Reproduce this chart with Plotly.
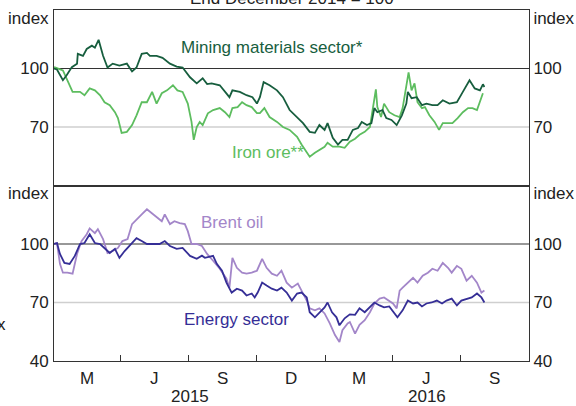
import plotly.graph_objects as go
import pandas as pd

# Top panel: mining materials sector and iron ore (end December 2014 = 100)
mining_dates = [
    "2014-12-31", "2015-01-05", "2015-01-13", "2015-01-18", "2015-01-25", "2015-02-01",
    "2015-02-02", "2015-02-09", "2015-02-14", "2015-02-21", "2015-02-25", "2015-03-02",
    "2015-03-08", "2015-03-14", "2015-03-21", "2015-03-30", "2015-04-09", "2015-04-16",
    "2015-04-22", "2015-04-29", "2015-05-06", "2015-05-10", "2015-05-19", "2015-05-27",
    "2015-06-06", "2015-06-15", "2015-06-23", "2015-07-03", "2015-07-12", "2015-07-20",
    "2015-07-26", "2015-08-01", "2015-08-12", "2015-08-19", "2015-08-25", "2015-08-29",
    "2015-09-08", "2015-09-17", "2015-09-25", "2015-10-01", "2015-10-05", "2015-10-10",
    "2015-10-18", "2015-10-28", "2015-11-05", "2015-11-14", "2015-11-24", "2015-12-02",
    "2015-12-11", "2015-12-18", "2015-12-24", "2015-12-31", "2016-01-04", "2016-01-11",
    "2016-01-18", "2016-01-24", "2016-01-31", "2016-02-07", "2016-02-14", "2016-02-19",
    "2016-02-26", "2016-03-03", "2016-03-07", "2016-03-11", "2016-03-18", "2016-03-23",
    "2016-03-30", "2016-04-06", "2016-04-13", "2016-04-19", "2016-04-21", "2016-04-26",
    "2016-05-03", "2016-05-10", "2016-05-16", "2016-05-24", "2016-05-31", "2016-06-07",
    "2016-06-16", "2016-06-26", "2016-07-04", "2016-07-13", "2016-07-20", "2016-07-27",
    "2016-07-31", "2016-08-02",
]
mining = [
    100, 99.5, 94, 96.5, 100.7, 102.5,
    107.5, 106.5, 110, 111.7, 110.7, 114.7,
    106.5, 100.5, 102.5, 101.5, 102.5, 98.5,
    100.5, 107.5, 108, 106.5, 106.5, 105.5,
    102.5, 101, 100.5, 95.5, 92.4, 95,
    92, 92.4, 91.4, 88, 85.3, 88.8,
    88, 86.3, 85.3, 82, 85.3, 93,
    91.4, 88.8, 85.3, 78.7, 75.1, 72,
    67.5, 67, 71, 68.5, 72, 64.4,
    61, 63.4, 63.4, 68.5, 69.5, 72.6,
    71, 72, 79.7, 77.6, 78.7, 74.6,
    73.6, 71, 76, 82, 88, 84.8,
    85.3, 81.2, 82, 81.2, 81.2, 83.7,
    82, 82.7, 88, 94, 89.8, 88.8,
    91.9, 90.5,
]

iron_dates = [
    "2014-12-31", "2015-01-02", "2015-01-13", "2015-01-19", "2015-01-26", "2015-02-05",
    "2015-02-11", "2015-02-18", "2015-02-25", "2015-03-04", "2015-03-10", "2015-03-17",
    "2015-03-24", "2015-03-28", "2015-04-02", "2015-04-09", "2015-04-16", "2015-04-22",
    "2015-04-29", "2015-05-06", "2015-05-13", "2015-05-19", "2015-05-26", "2015-06-02",
    "2015-06-10", "2015-06-16", "2015-06-23", "2015-06-30", "2015-07-05", "2015-07-08",
    "2015-07-12", "2015-07-16", "2015-07-20", "2015-07-27", "2015-08-03", "2015-08-12",
    "2015-08-19", "2015-08-25", "2015-08-29", "2015-09-05", "2015-09-11", "2015-09-17",
    "2015-09-24", "2015-10-01", "2015-10-05", "2015-10-11", "2015-10-18", "2015-10-28",
    "2015-11-05", "2015-11-14", "2015-11-24", "2015-11-30", "2015-12-07", "2015-12-11",
    "2015-12-18", "2015-12-24", "2015-12-31", "2016-01-04", "2016-01-11", "2016-01-20",
    "2016-01-27", "2016-02-03", "2016-02-10", "2016-02-16", "2016-02-23", "2016-03-01",
    "2016-03-05", "2016-03-09", "2016-03-11", "2016-03-16", "2016-03-20", "2016-03-27",
    "2016-04-03", "2016-04-10", "2016-04-14", "2016-04-19", "2016-04-22", "2016-04-26",
    "2016-04-30", "2016-05-04", "2016-05-10", "2016-05-14", "2016-05-20", "2016-05-27",
    "2016-06-02", "2016-06-07", "2016-06-14", "2016-06-20", "2016-06-27", "2016-07-04",
    "2016-07-11", "2016-07-17", "2016-07-23", "2016-07-27", "2016-07-31",
]
iron_ore = [
    100, 100.6, 99, 94, 88, 88,
    86.3, 89.8, 88.8, 86.3, 82.7, 81.2,
    77.6, 74.6, 67, 67.5, 71, 76,
    82.7, 82.7, 88, 82, 87.3, 88.8,
    91.4, 88.8, 88, 82, 72.6, 63.4,
    70, 72.6, 71, 77, 78.7, 79.7,
    77.6, 75.1, 79.7, 80.2, 82.7, 81.2,
    80.2, 77.1, 77.1, 79.7, 75.1, 72.6,
    70, 68.5, 65, 61, 56.8, 54.8,
    56.8, 58.3, 59.9, 61.9, 59.9, 59.9,
    59.3, 62.5, 64, 66, 67.5, 70,
    78.7, 89.3, 80.2, 75.1, 82, 77.6,
    76, 75.1, 79.7, 90.5, 98, 88.8,
    92.4, 82.7, 79.7, 80.2, 76, 72.6,
    68.5, 72, 72, 72, 74.6, 77.6,
    79.7, 79.7, 78.7, 82.7, 87.3,
]

# Bottom panel: energy sector and Brent oil
energy_dates = [
    "2014-12-31", "2015-01-05", "2015-01-09", "2015-01-15", "2015-01-22", "2015-01-29",
    "2015-02-05", "2015-02-11", "2015-02-18", "2015-02-25", "2015-03-04", "2015-03-10",
    "2015-03-17", "2015-03-24", "2015-03-30", "2015-04-06", "2015-04-16", "2015-04-22",
    "2015-04-29", "2015-05-06", "2015-05-14", "2015-05-23", "2015-05-30", "2015-06-06",
    "2015-06-15", "2015-06-23", "2015-07-03", "2015-07-12", "2015-07-19", "2015-07-23",
    "2015-08-03", "2015-08-08", "2015-08-15", "2015-08-21", "2015-08-28", "2015-09-04",
    "2015-09-11", "2015-09-17", "2015-09-24", "2015-09-28", "2015-10-02", "2015-10-08",
    "2015-10-14", "2015-10-21", "2015-10-28", "2015-11-03", "2015-11-10", "2015-11-17",
    "2015-11-24", "2015-11-30", "2015-12-07", "2015-12-11", "2015-12-18", "2015-12-24",
    "2015-12-31", "2016-01-04", "2016-01-10", "2016-01-16", "2016-01-20", "2016-01-27",
    "2016-02-03", "2016-02-10", "2016-02-16", "2016-02-23", "2016-03-01", "2016-03-07",
    "2016-03-14", "2016-03-20", "2016-03-27", "2016-04-03", "2016-04-07", "2016-04-14",
    "2016-04-21", "2016-04-28", "2016-05-04", "2016-05-10", "2016-05-16", "2016-05-23",
    "2016-05-30", "2016-06-06", "2016-06-12", "2016-06-19", "2016-06-26", "2016-07-02",
    "2016-07-09", "2016-07-16", "2016-07-23", "2016-07-29", "2016-08-02",
]
energy = [
    100, 100.5, 94.9, 90.3, 89.8, 93.9,
    100, 100.5, 105, 100.5, 100, 98,
    95.4, 97.5, 92.9, 96.4, 100.5, 103,
    101.5, 100, 100, 100, 101.5, 99,
    97.5, 98, 93.9, 92.4, 94, 92.9,
    93.9, 89.8, 86.3, 80.2, 75.1, 77.1,
    76.1, 73.6, 74.6, 72.6, 75.1, 80.2,
    78.7, 77.1, 76.1, 77.6, 75.1, 71,
    74.6, 75.1, 72.6, 65, 62.4, 65,
    67.5, 70, 65, 62.4, 58.3, 61.9,
    63.9, 63.7, 67, 65, 67.5, 70,
    68.5, 67.5, 68, 64.4, 62.4, 66,
    71, 69.5, 70, 68, 69.5, 70,
    71, 69.5, 71, 72, 68.5, 71,
    72, 72.6, 74.6, 72.6, 70,
]

brent_dates = [
    "2014-12-31", "2015-01-05", "2015-01-09", "2015-01-13", "2015-01-19", "2015-01-26",
    "2015-02-01", "2015-02-07", "2015-02-14", "2015-02-18", "2015-02-25", "2015-03-01",
    "2015-03-08", "2015-03-14", "2015-03-21", "2015-03-28", "2015-04-03", "2015-04-10",
    "2015-04-16", "2015-04-22", "2015-04-29", "2015-05-06", "2015-05-13", "2015-05-19",
    "2015-05-26", "2015-05-30", "2015-06-06", "2015-06-12", "2015-06-19", "2015-06-26",
    "2015-06-30", "2015-07-05", "2015-07-12", "2015-07-19", "2015-07-26", "2015-08-03",
    "2015-08-12", "2015-08-21", "2015-08-25", "2015-08-29", "2015-09-04", "2015-09-11",
    "2015-09-17", "2015-09-24", "2015-10-01", "2015-10-08", "2015-10-14", "2015-10-21",
    "2015-10-28", "2015-11-03", "2015-11-10", "2015-11-17", "2015-11-25", "2015-11-30",
    "2015-12-07", "2015-12-11", "2015-12-18", "2015-12-24", "2015-12-31", "2016-01-07",
    "2016-01-14", "2016-01-20", "2016-01-24", "2016-01-31", "2016-02-03", "2016-02-10",
    "2016-02-16", "2016-02-23", "2016-03-01", "2016-03-07", "2016-03-14", "2016-03-20",
    "2016-03-27", "2016-04-01", "2016-04-06", "2016-04-10", "2016-04-14", "2016-04-21",
    "2016-04-28", "2016-05-04", "2016-05-11", "2016-05-18", "2016-05-24", "2016-05-31",
    "2016-06-07", "2016-06-14", "2016-06-19", "2016-06-26", "2016-07-02", "2016-07-09",
    "2016-07-16", "2016-07-23", "2016-07-29", "2016-08-02",
]
brent = [
    100, 100.5, 89.8, 85.3, 85.3, 84.8,
    94.9, 101.5, 105, 108, 105.6, 107.6,
    102.5, 95.4, 96.4, 98, 101.5, 102.5,
    110.2, 112.7, 115.2, 117.8, 115.7, 114.2,
    111.7, 115.2, 110.2, 111.7, 110.7, 110.2,
    106.6, 100, 100, 99, 94.9, 91.4,
    87.3, 82.2, 77.6, 92.9, 87.8, 85.3,
    84.8, 85.3, 86.3, 92.4, 87.8, 84.8,
    83.7, 86.3, 80.2, 77.6, 79.7, 76.1,
    71, 67, 66, 67, 64.4, 59.3,
    53.3, 49.7, 55.8, 59.3, 60, 54,
    58.5, 60.9, 65, 69.5, 72, 72.6,
    71, 69.5, 67, 76.1, 77.6, 80.2,
    82.7, 80.2, 83.7, 85.3, 87.3, 86.3,
    90.3, 87.8, 85.3, 88.8, 87.3, 81.2,
    83.7, 80.2, 75.1, 76.1,
]

# Axis labelling
quarter_ends = ["2015-01-01", "2015-04-01", "2015-07-01", "2015-10-01",
                "2016-01-01", "2016-04-01", "2016-07-01", "2016-10-01"]
month_letters = ["M", "J", "S", "D", "M", "J", "S"]
years = ["2015", "2016"]
year_spans = [("2015-01-01", "2016-01-01"), ("2016-01-01", "2016-10-01")]
top_ticks = [70, 100, 126]
top_ticktext = ["70", "100", "index"]
bottom_ticks = [40, 70, 100, 126]
bottom_ticktext = ["40", "70", "100", "index"]

MINING_COL = "#175e3e"
IRON_COL = "#5dbd5f"
BRENT_COL = "#a386c9"
ENERGY_COL = "#352e96"
AXIS_COL = "#333333"
FONT = dict(family="Liberation Sans, Arial, sans-serif", size=17, color="#222222")

fig = go.Figure()

fig.add_trace(go.Scatter(x=iron_dates, y=iron_ore, mode="lines",
                         line=dict(color=IRON_COL, width=1.8), xaxis="x2", yaxis="y2"))
fig.add_trace(go.Scatter(x=mining_dates, y=mining, mode="lines",
                         line=dict(color=MINING_COL, width=1.8), xaxis="x2", yaxis="y2"))
fig.add_trace(go.Scatter(x=brent_dates, y=brent, mode="lines",
                         line=dict(color=BRENT_COL, width=1.8), xaxis="x", yaxis="y"))
fig.add_trace(go.Scatter(x=energy_dates, y=energy, mode="lines",
                         line=dict(color=ENERGY_COL, width=1.8), xaxis="x", yaxis="y"))
# invisible traces so the right-hand axes get drawn
fig.add_trace(go.Scatter(x=energy_dates[:1], y=energy[:1], mode="lines", xaxis="x",
                         yaxis="y3", hoverinfo="skip", line=dict(width=0)))
fig.add_trace(go.Scatter(x=mining_dates[:1], y=mining[:1], mode="lines", xaxis="x2",
                         yaxis="y4", hoverinfo="skip", line=dict(width=0)))

xrange = [quarter_ends[0], quarter_ends[-1]]
common_y = dict(range=[40, 130], showgrid=False, zeroline=False, showline=True,
                linecolor=AXIS_COL, linewidth=1, ticks="", tickfont=FONT,
                automargin=False)

fig.update_layout(
    width=576, height=406,
    margin=dict(l=54, r=47, t=10, b=45),
    paper_bgcolor="white", plot_bgcolor="white",
    showlegend=False,
    font=FONT,
    xaxis=dict(range=xrange, type="date", anchor="y", showgrid=False, zeroline=False,
               showline=True, mirror=True, linecolor=AXIS_COL, linewidth=1,
               tickvals=quarter_ends[1:-1], ticks="inside", ticklen=6,
               tickcolor=AXIS_COL, showticklabels=False, automargin=False),
    xaxis2=dict(range=xrange, type="date", anchor="y2", matches="x", showgrid=False,
                zeroline=False, showline=True, mirror=True, linecolor=AXIS_COL,
                linewidth=1, showticklabels=False, ticks="", automargin=False),
    yaxis=dict(domain=[0, 0.5], anchor="x", tickvals=bottom_ticks,
               ticktext=bottom_ticktext, ticklabelstandoff=1, **common_y),
    yaxis2=dict(domain=[0.5, 1], anchor="x2", tickvals=top_ticks,
                ticktext=top_ticktext, ticklabelstandoff=1, **common_y),
    yaxis3=dict(overlaying="y", side="right", anchor="x", tickvals=bottom_ticks,
                ticktext=bottom_ticktext, ticklabelstandoff=0, **common_y),
    yaxis4=dict(overlaying="y2", side="right", anchor="x2", tickvals=top_ticks,
                ticktext=top_ticktext, ticklabelstandoff=0, **common_y),
)

# Horizontal reference lines
shapes = []
for yref, xref in (("y", "x"), ("y2", "x2")):
    shapes.append(dict(type="line", xref=f"{xref} domain", x0=0, x1=1, yref=yref,
                       y0=70, y1=70, line=dict(color="#cfcfcf", width=1.3), layer="below"))
    shapes.append(dict(type="line", xref=f"{xref} domain", x0=0, x1=1, yref=yref,
                       y0=100, y1=100, line=dict(color=AXIS_COL, width=1.2), layer="below"))
fig.update_layout(shapes=shapes)

# Month letters centred in each quarter, years centred under their spans
qe = pd.to_datetime(quarter_ends)
for i, letter in enumerate(month_letters):
    mid = qe[i] + (qe[i + 1] - qe[i]) / 2
    fig.add_annotation(x=mid, y=0, xref="x", yref="paper", yshift=-17, text=letter,
                       showarrow=False, font=FONT, xanchor="center", yanchor="middle")
for yr, (a, b) in zip(years, year_spans):
    a, b = pd.Timestamp(a), pd.Timestamp(b)
    fig.add_annotation(x=a + (b - a) / 2, y=0, xref="x", yref="paper", yshift=-35,
                       text=yr, showarrow=False, font=FONT, xanchor="center",
                       yanchor="middle")

# Series labels
labels = [
    ("Mining materials sector*", MINING_COL, 0.458, 0.892),
    ("Iron ore**", IRON_COL, 0.45, 0.595),
    ("Brent oil", BRENT_COL, 0.375, 0.396),
    ("Energy sector", ENERGY_COL, 0.385, 0.117),
]
for text, col, px, py in labels:
    fig.add_annotation(x=px, y=py, xref="paper", yref="paper", text=text,
                       showarrow=False, xanchor="center", yanchor="middle",
                       font=dict(family=FONT["family"], size=17, color=col))

# Cut-off title and stray fragment from the source page
fig.add_annotation(x=0.5, y=1, xref="paper", yref="paper", yshift=12,
                   text="End December 2014 = 100", showarrow=False, font=FONT,
                   xanchor="center", yanchor="middle")
fig.add_annotation(x=0, y=0.1026, xref="paper", yref="paper", xshift=-46,
                   text="x", showarrow=False, font=FONT, xanchor="right",
                   yanchor="middle")

# the page's default body margin would shift the whole figure by 8px
fig.write_html("out.html", config={"displayModeBar": False},
               post_script="document.body.style.margin='0';")
